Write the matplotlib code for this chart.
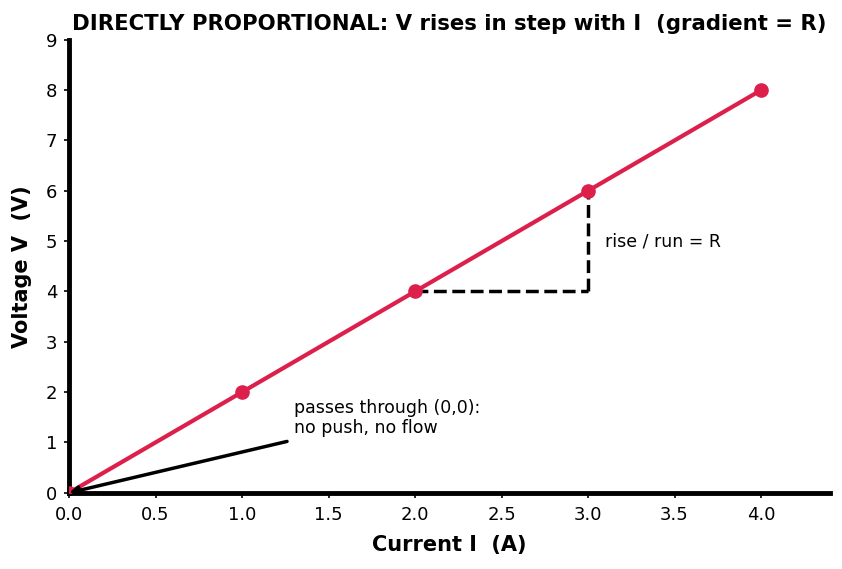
import matplotlib
matplotlib.use('Agg')
import matplotlib.pyplot as plt

# data
current = [0, 1, 2, 3, 4]
voltage = [0, 2, 4, 6, 8]
run_x = [2, 3]
run_y = [4, 4]
rise_x = [3, 3]
rise_y = [4, 6]

fig, ax = plt.subplots(figsize=(8.42, 5.69), dpi=100)

ax.plot(current, voltage, color='#dc1f4b', linewidth=3, marker='o', markersize=9.5, zorder=3)
ax.plot(run_x, run_y, color='black', linestyle='--', linewidth=2.5)
ax.plot(rise_x, rise_y, color='black', linestyle='--', linewidth=2.5)

ax.text(3.1, 5, 'rise / run = R', fontsize=12.5, va='center')
ax.annotate('', xy=(0, 0), xytext=(1.26, 1.02),
            arrowprops=dict(arrowstyle='-|>', color='black', linewidth=2.5,
                            mutation_scale=12, shrinkA=0, shrinkB=0))
ax.text(1.3, 1.1, 'passes through (0,0):\nno push, no flow', fontsize=12.5, va='bottom')

ax.set_xlim(0, 4.4)
ax.set_ylim(0, 9)
ax.set_xticks([0, 0.5, 1, 1.5, 2, 2.5, 3, 3.5, 4])
ax.set_yticks(range(10))
ax.tick_params(labelsize=13, width=1.2)
ax.tick_params(axis='x', pad=6)
ax.tick_params(axis='y', pad=5)

for s in ['top', 'right']:
    ax.spines[s].set_visible(False)
for s in ['left', 'bottom']:
    ax.spines[s].set_linewidth(3.5)

ax.set_xlabel('Current I  (A)', fontsize=15, fontweight='bold', labelpad=8)
ax.set_ylabel('Voltage V  (V)', fontsize=15, fontweight='bold', labelpad=10)
ax.set_title('DIRECTLY PROPORTIONAL: V rises in step with I  (gradient = R)',
             fontsize=15.3, fontweight='bold', pad=7)

plt.subplots_adjust(left=0.082, right=0.986, top=0.93, bottom=0.134)
plt.savefig('out.png')
